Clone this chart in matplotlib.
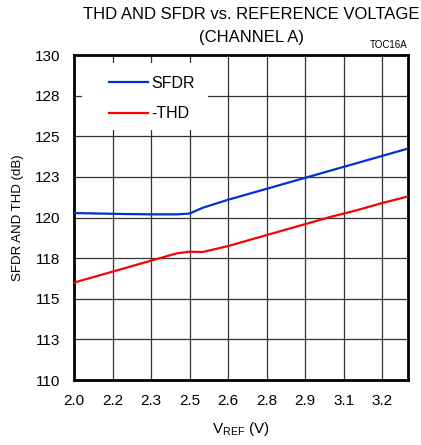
import matplotlib
matplotlib.use('Agg')
import matplotlib.pyplot as plt
from matplotlib.patches import Rectangle

plt.rcParams['font.family'] = ['Liberation Sans', 'DejaVu Sans']

# data
vref = [2.0, 2.1, 2.2, 2.3, 2.4, 2.45, 2.5, 2.6, 2.7, 2.8, 2.9, 3.0, 3.1, 3.2, 3.3]
sfdr = [120.28, 120.25, 120.22, 120.2, 120.2, 120.25, 120.6, 121.1, 121.55, 122.0, 122.45, 122.9, 123.35, 123.8, 124.25]
thd = [116.0, 116.45, 116.9, 117.35, 117.8, 117.9, 117.88, 118.25, 118.7, 119.15, 119.6, 120.05, 120.45, 120.9, 121.3]

x_ticks = [2.0, 2.15, 2.3, 2.45, 2.6, 2.75, 2.9, 3.05, 3.2]
x_labels = ['2.0', '2.2', '2.3', '2.5', '2.6', '2.8', '2.9', '3.1', '3.2']
y_ticks = [110, 112.5, 115, 117.5, 120, 122.5, 125, 127.5, 130]
y_labels = ['110', '113', '115', '118', '120', '123', '125', '128', '130']

fig = plt.figure(figsize=(4.21, 4.45), dpi=100)
ax = fig.add_axes([0.176, 0.146, 0.793, 0.730])

ax.plot(vref, sfdr, color='#0033cc', lw=1.6, label='SFDR', zorder=3)
ax.plot(vref, thd, color='#ff0000', lw=1.6, label='-THD', zorder=3)

ax.set_xlim(2.0, 3.3)
ax.set_ylim(110, 130)
ax.set_xticks(x_ticks)
ax.set_xticklabels(x_labels)
ax.set_yticks(y_ticks)
ax.set_yticklabels(y_labels)
ax.tick_params(length=0, labelsize=11, pad=10)
ax.grid(True, color='#333333', lw=0.9)

for s in ax.spines.values():
    s.set_linewidth(2)
    s.set_color('black')

# white box behind the legend hides the grid there
ax.add_patch(Rectangle((0.024, 0.77), 0.376, 0.205, transform=ax.transAxes,
                       facecolor='white', edgecolor='none', zorder=2))

ax.set_xlabel('V$_{\\mathregular{REF}}$ (V)', fontsize=11, labelpad=9)
ax.set_ylabel('SFDR AND THD (dB)', fontsize=9.5, labelpad=8)

leg = ax.legend(loc='upper left', bbox_to_anchor=(0.06, 0.98), frameon=False,
                fontsize=11.5, handlelength=2.5, handletextpad=0.15, labelspacing=0.95)
leg.set_zorder(4)

fig.text(0.597, 0.968, 'THD AND SFDR vs. REFERENCE VOLTAGE', ha='center', va='center', fontsize=12)
fig.text(0.597, 0.916, '(CHANNEL A)', ha='center', va='center', fontsize=12)
fig.text(0.969, 0.900, 'TOC16A', ha='right', va='center', fontsize=7)

fig.savefig('out.png', dpi=100)
